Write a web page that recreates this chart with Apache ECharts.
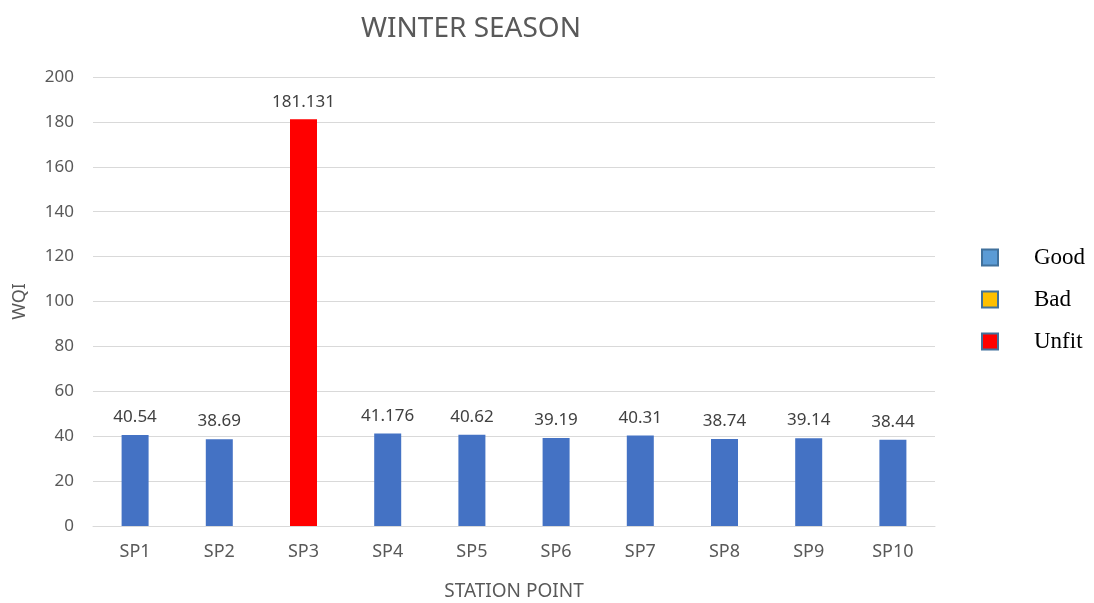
<!DOCTYPE html>
<html>
<head>
<meta charset="UTF-8">
<title>Winter Season</title>
<script src="https://cdn.jsdelivr.net/npm/echarts@6/dist/echarts.min.js"></script>
<style>
body{
margin:0;
background:#fff;
}
#chart{
width:1094px;
height:603px;
}
</style>
</head>
<body>

<div id="chart"></div>

<script>

const stations=["SP1","SP2","SP3","SP4","SP5","SP6","SP7","SP8","SP9","SP10"]
const wqi=[40.54,38.69,181.131,41.176,40.62,39.19,40.31,38.74,39.14,38.44]
const status=["Good","Good","Unfit","Good","Good","Good","Good","Good","Good","Good"]
const classes=["Good","Bad","Unfit"]
const barColors={ Good:"#4472c4", Bad:"#ffc000", Unfit:"#ff0000" }
const legendColors={ Good:"#5b9bd5", Bad:"#ffc000", Unfit:"#ff0000" }

const font="'Noto Sans', 'Liberation Sans', sans-serif"

const series=classes.map(c=>({
 name:c,
 type:"bar",
 stack:"wqi",
 barWidth:27,
 itemStyle:{ color:barColors[c] },
 label:{
  show:true,
  position:"top",
  distance:9,
  color:"#404040",
  fontSize:17,
  fontFamily:font,
  formatter:p=>String(p.value)
 },
 data:wqi.map((v,i)=>status[i]===c ? v : null)
}))

const chart=echarts.init(document.getElementById("chart"))

chart.setOption({
 animation:false,
 title:{
  text:"WINTER SEASON",
  left:466,
  top:10,
  textAlign:"center",
  textStyle:{ color:"#595959", fontSize:28, fontWeight:"normal", fontFamily:font }
 },
 legend:{
  orient:"vertical",
  left:976,
  top:241,
  itemGap:19,
  itemWidth:16,
  itemHeight:16,
  selectedMode:false,
  textStyle:{
   fontFamily:"'Liberation Serif', serif",
   fontSize:23,
   color:"#000",
   padding:[0,0,0,31]
  },
  data:classes.map(c=>({
   name:c,
   icon:"rect",
   itemStyle:{ color:legendColors[c], borderColor:"#41719c", borderWidth:2 }
  }))
 },
 grid:{ left:93, right:159, top:77, bottom:77, outerBoundsMode:"none", containLabel:false },
 xAxis:{
  type:"category",
  data:stations,
  name:"STATION POINT",
  nameLocation:"middle",
  nameGap:56,
  nameTextStyle:{ color:"#595959", fontSize:19, fontFamily:font },
  axisLine:{ lineStyle:{ color:"#d9d9d9" } },
  axisTick:{ show:false },
  axisLabel:{ color:"#595959", fontSize:18, fontFamily:font, margin:17 }
 },
 yAxis:{
  type:"value",
  min:0,
  max:200,
  interval:20,
  name:"WQI",
  nameLocation:"middle",
  nameGap:64,
  nameTextStyle:{ color:"#595959", fontSize:18, fontFamily:font },
  axisLine:{ show:false },
  axisTick:{ show:false },
  axisLabel:{ color:"#595959", fontSize:17, fontFamily:font, margin:19 },
  splitLine:{ lineStyle:{ color:"#d9d9d9" } }
 },
 series:series
})

</script>

</body>
</html>
